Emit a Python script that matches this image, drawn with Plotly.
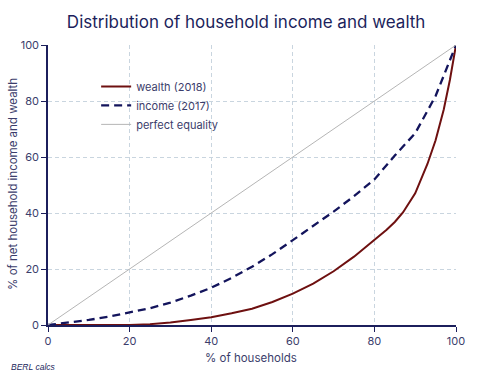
import plotly.graph_objects as go

# Data
wealth_x = [0, 5, 10, 15, 20, 25, 30, 35, 40, 45, 50, 55, 60, 65, 70, 75, 80, 83, 85, 87, 90, 93, 95, 97, 98.5, 100]
wealth_y = [0, 0, 0, 0, 0, 0.3, 0.9, 1.8, 2.8, 4.2, 5.8, 8.2, 11.2, 14.8, 19.2, 24.4, 30.4, 34, 36.8, 40.2, 47, 57.5, 66, 77, 87.5, 100]
income_x = [0, 5, 10, 15, 20, 25, 30, 35, 40, 45, 50, 55, 60, 65, 70, 75, 80, 85, 90, 95, 97, 100]
income_y = [0, 0.8, 1.8, 3, 4.4, 6, 8, 10.5, 13.3, 16.8, 20.8, 25.3, 30.3, 35.3, 40.5, 46, 52, 60.5, 68.5, 81.8, 89, 100]
equal_x = [0, 100]
equal_y = [0, 100]
ticks = [0, 20, 40, 60, 80, 100]

navy = "#1c1f5c"
txt = "#3b3d6b"
font_family = "Inter, Liberation Sans, sans-serif"

fig = go.Figure()
fig.add_trace(go.Scatter(x=wealth_x, y=wealth_y, mode="lines", name="wealth (2018)",
                         line=dict(color="#6e1010", width=2)))
fig.add_trace(go.Scatter(x=income_x, y=income_y, mode="lines", name="income (2017)",
                         line=dict(color="#13145c", width=2.3, dash="8px,5px")))
fig.add_trace(go.Scatter(x=equal_x, y=equal_y, mode="lines", name="perfect equality",
                         line=dict(color="#b5b5b5", width=1)))

fig.update_layout(
    width=477, height=383,
    margin=dict(l=48, r=21, t=45, b=58, autoexpand=False),
    paper_bgcolor="white", plot_bgcolor="white",
    font=dict(family=font_family, color=txt, size=11),
    title=dict(text="Distribution of household income and wealth", x=0.516, xanchor="center",
               xref="container", yref="container",
               y=0.9426, yanchor="middle", font=dict(size=17, color=navy, family=font_family)),
    legend=dict(x=0.118, y=0.904, xanchor="left", yanchor="top", bgcolor="rgba(0,0,0,0)",
                font=dict(size=11, color=txt), tracegroupgap=0, itemwidth=30),
    showlegend=True,
)
fig.update_xaxes(range=[0, 100], tickvals=ticks, showline=True, linecolor=navy, linewidth=1.5,
                 ticks="outside", ticklen=5, tickcolor=navy, automargin=False,
                 showgrid=True, gridcolor="#c9d5df", griddash="4px,3px", gridwidth=1,
                 zeroline=False, tickfont=dict(size=11))
fig.update_yaxes(range=[0, 100], tickvals=ticks, showline=True, linecolor=navy, linewidth=1.5,
                 ticks="outside", ticklen=5, tickcolor=navy, automargin=False,
                 showgrid=True, gridcolor="#c9d5df", griddash="4px,3px", gridwidth=1,
                 zeroline=False, tickfont=dict(size=11))
fig.add_annotation(text="% of households", xref="paper", yref="paper", x=0.4975, y=-(358 - 325) / 280,
                   xanchor="center", yanchor="middle", showarrow=False, font=dict(size=11.5, color=txt))
fig.add_annotation(text="% of net household income and wealth", xref="paper", yref="paper",
                   x=-(48 - 13) / 408, y=0.504, textangle=-90,
                   xanchor="center", yanchor="middle", showarrow=False, font=dict(size=11.5, color=txt))
fig.add_annotation(text="<i>BERL calcs</i>", xref="paper", yref="paper", x=-(48 - 9) / 408, y=-(367 - 325) / 280,
                   xanchor="left", yanchor="middle", showarrow=False,
                   font=dict(size=8.5, color=navy, family="Liberation Sans, Arial, sans-serif"))
fig.write_html("out.html", config={"displayModeBar": False},
               post_script="document.body.style.margin='0';")
